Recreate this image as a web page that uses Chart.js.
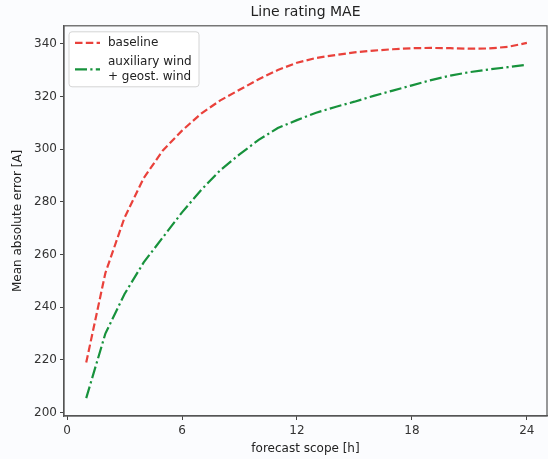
<!DOCTYPE html>
<html lang="en">
<head>
    <meta charset="UTF-8">
    <title>Line rating MAE</title>
    <script src="https://cdn.jsdelivr.net/npm/chart.js"></script>
    <style>
        html, body { margin: 0; padding: 0; background: #fbfcfe; }
        #wrap { position: relative; width: 548px; height: 459px; }
        #maeChart { display: block; }
        .xtick {
            position: absolute;
            transform: translate(-50%, -50%);
            font: 12px "DejaVu Sans";
            line-height: 1;
            color: #333;
            white-space: nowrap;
        }
    </style>
</head>
<body>
    <div id="wrap">
        <canvas id="maeChart" width="548" height="459"></canvas>
    </div>

    <script>
        // forecast horizon in hours and MAE [A] per model
        const hours = [1, 2, 3, 4, 5, 6, 7, 8, 9, 10, 11, 12, 13, 14, 15, 16, 17, 18, 19, 20, 21, 22, 23, 24];
        const baseline = [219, 253, 274, 289, 299.5, 307, 313.5, 318.5, 322.5, 326.5, 330, 332.8, 334.6, 335.7, 336.7, 337.4, 337.9, 338.3, 338.4, 338.3, 338.1, 338.2, 338.8, 340.3];
        const auxWind = [205.5, 230, 245, 257, 266.5, 276, 284.5, 292, 298, 303.5, 308, 311, 313.8, 316, 318, 320.2, 322.2, 324.2, 326.2, 327.9, 329.2, 330.2, 331.1, 332];
        const xTicks = [0, 6, 12, 18, 24];
        const yTicks = [200, 220, 240, 260, 280, 300, 320, 340];

        const FONT = 'DejaVu Sans';
        const RED = '#e9413b';
        const GREEN = '#17923c';
        const DASH = [7.5, 3.3];
        const DASH_DOT = [12, 3.3, 2.2, 3.3];

        const toPoints = values => hours.map((h, i) => ({ x: h, y: values[i] }));

        // box around the plot plus a hand-drawn legend (two-line label for the second entry)
        const frameAndLegend = {
            id: 'frameAndLegend',
            afterDatasetsDraw(chart) {
                const { ctx, chartArea: a } = chart;
                ctx.save();
                ctx.strokeStyle = '#555';
                ctx.lineWidth = 1.2;
                ctx.setLineDash([]);
                ctx.strokeRect(a.left, a.top, a.right - a.left, a.bottom - a.top);

                const lx = a.left + 5, ly = a.top + 6, lw = 130, lh = 55;
                ctx.beginPath();
                ctx.roundRect(lx, ly, lw, lh, 3);
                ctx.fillStyle = 'rgba(255,255,255,0.85)';
                ctx.fill();
                ctx.strokeStyle = '#d4d4d4';
                ctx.lineWidth = 1;
                ctx.stroke();

                ctx.lineWidth = 2.2;
                ctx.strokeStyle = RED;
                ctx.setLineDash(DASH);
                ctx.beginPath();
                ctx.moveTo(lx + 6, ly + 11);
                ctx.lineTo(lx + 31, ly + 11);
                ctx.stroke();

                ctx.strokeStyle = GREEN;
                ctx.setLineDash(DASH_DOT);
                ctx.beginPath();
                ctx.moveTo(lx + 6, ly + 37.5);
                ctx.lineTo(lx + 31, ly + 37.5);
                ctx.stroke();

                ctx.setLineDash([]);
                ctx.fillStyle = '#222';
                ctx.font = `12px "${FONT}"`;
                ctx.textBaseline = 'middle';
                ctx.fillText('baseline', lx + 39, ly + 11);
                ctx.fillText('auxiliary wind', lx + 39, ly + 30);
                ctx.fillText('+ geost. wind', lx + 39, ly + 45);
                ctx.restore();
            }
        };

        const axisCommon = {
            type: 'linear',
            grid: { drawOnChartArea: false, tickLength: 4, color: '#444', tickWidth: 1 },
            border: { color: '#555', width: 1.2 },
            ticks: {
                color: '#333',
                font: { family: FONT, size: 12 },
                maxRotation: 0,
                autoSkip: false,
                padding: 3,
                callback: v => String(v)
            },
            title: { display: true, color: '#222', font: { family: FONT, size: 12 } }
        };

        const chart = new Chart(document.getElementById('maeChart'), {
            type: 'line',
            data: {
                datasets: [
                    {
                        label: 'baseline',
                        data: toPoints(baseline),
                        borderColor: RED,
                        borderWidth: 2.2,
                        borderDash: DASH,
                        pointRadius: 0,
                        tension: 0,
                        fill: false
                    },
                    {
                        label: 'auxiliary wind + geost. wind',
                        data: toPoints(auxWind),
                        borderColor: GREEN,
                        borderWidth: 2.2,
                        borderDash: DASH_DOT,
                        pointRadius: 0,
                        tension: 0,
                        fill: false
                    }
                ]
            },
            options: {
                responsive: false,
                animation: false,
                layout: { padding: { left: 0, right: 1, top: 0, bottom: 0 } },
                plugins: {
                    legend: { display: false },
                    tooltip: { enabled: false },
                    title: {
                        display: true,
                        fullSize: false,
                        text: 'Line rating MAE',
                        color: '#222',
                        font: { family: FONT, size: 14, weight: 'normal' },
                        padding: { top: 4, bottom: 5 }
                    }
                },
                scales: {
                    x: {
                        ...axisCommon,
                        min: -0.16,
                        max: 25.05,
                        afterBuildTicks: scale => { scale.ticks = xTicks.map(v => ({ value: v })); },
                        afterFit: scale => { scale.height = 43; },
                        ticks: { ...axisCommon.ticks, display: false },
                        title: { ...axisCommon.title, text: 'forecast scope [h]', padding: { top: 0, bottom: 3 } }
                    },
                    y: {
                        ...axisCommon,
                        min: 198.7,
                        max: 346.8,
                        afterBuildTicks: scale => { scale.ticks = yTicks.map(v => ({ value: v })); },
                        afterFit: scale => { scale.width = 64; },
                        title: { ...axisCommon.title, text: 'Mean absolute error [A]', padding: { top: 11, bottom: 0 } }
                    }
                }
            },
            plugins: [frameAndLegend]
        });

        // hour labels as page text, placed from the x scale
        const wrap = document.getElementById('wrap');
        const xScale = chart.scales.x;
        xTicks.forEach(v => {
            const el = document.createElement('div');
            el.className = 'xtick';
            el.textContent = String(v);
            el.style.left = xScale.getPixelForValue(v) + 'px';
            el.style.top = (chart.chartArea.bottom + 14) + 'px';
            wrap.appendChild(el);
        });
    </script>
</body>
</html>
